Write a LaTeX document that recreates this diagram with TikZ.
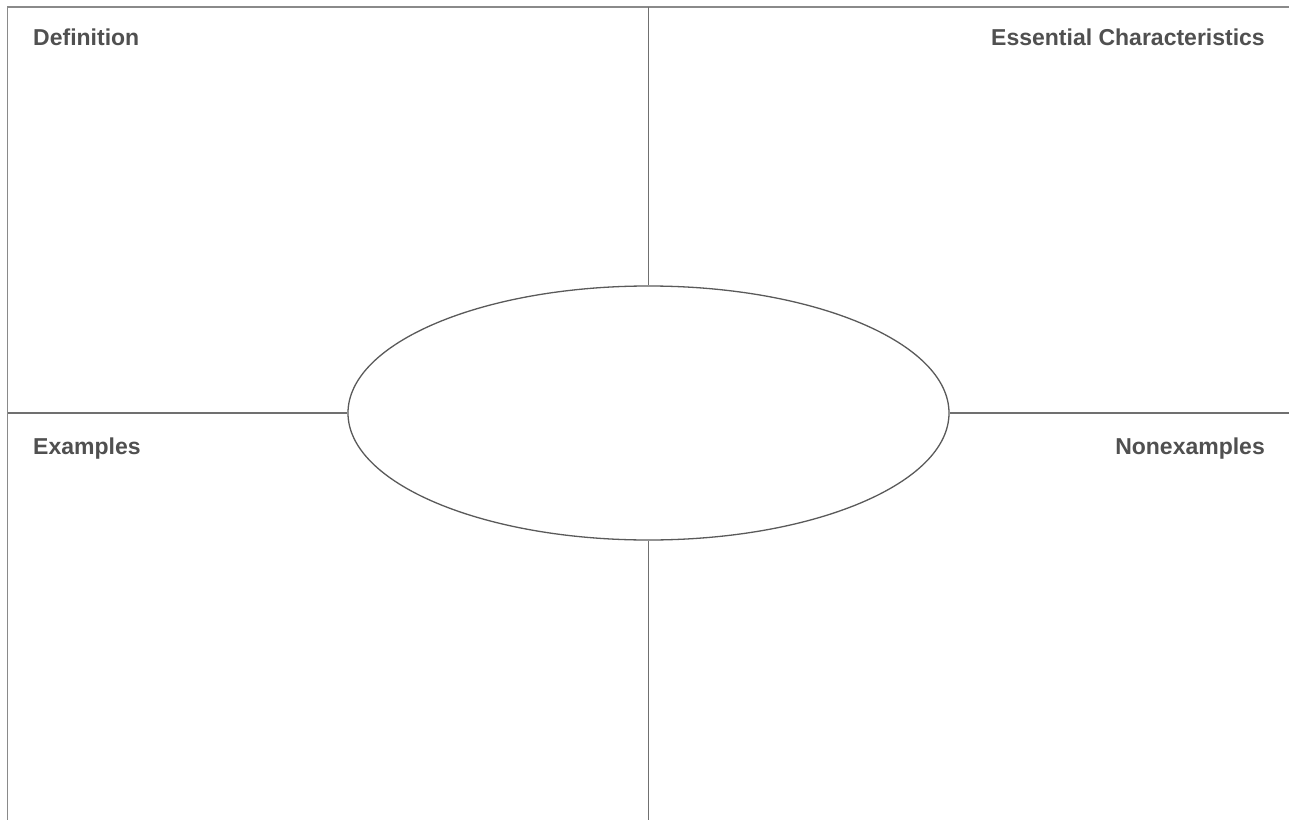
\documentclass[tikz,border=0pt]{standalone}
\usepackage{fontspec}
\setmainfont{Liberation Sans}
\usetikzlibrary{shapes.geometric}
\definecolor{framec}{HTML}{8A8A8A}
\definecolor{linec}{HTML}{707070}
\definecolor{ellc}{HTML}{5A5A5A}
\definecolor{textc}{HTML}{505050}
\begin{document}
\begin{tikzpicture}[x=1bp,y=-1bp,
  frameline/.style={draw=framec,line width=1.6bp},
  divline/.style={draw=linec,line width=1.3bp},
  label/.style={text=textc,font=\fontsize{23bp}{26bp}\selectfont\bfseries,inner sep=0pt}]
\useasboundingbox (0,0) rectangle (1289,820);
\fill[white] (0,0) rectangle (1289,820);
\draw[frameline] (7.5,820) -- (7.5,7) -- (1289,7);
\node[draw=ellc,line width=1.3bp,ellipse,minimum width=601bp,minimum height=254bp,inner sep=0pt] (e) at (648.5,413) {};
\coordinate (t) at (648.5,7);
\coordinate (b) at (648.5,820);
\coordinate (l) at (7.5,413);
\coordinate (r) at (1289,413);
\draw[divline] (t) -- (e.north);
\draw[divline] (e.south) -- (b);
\draw[divline] (l) -- (e.west);
\draw[divline] (e.east) -- (r);
\node[label,anchor=base west] (def) at (33,46) {Definition};
\node[label,anchor=base east] (ess) at (1265,46) {Essential Characteristics};
\node[label,anchor=base west] (ex) at (33,454) {Examples};
\node[label,anchor=base east] (nex) at (1265,454) {Nonexamples};
\end{tikzpicture}
\end{document}
